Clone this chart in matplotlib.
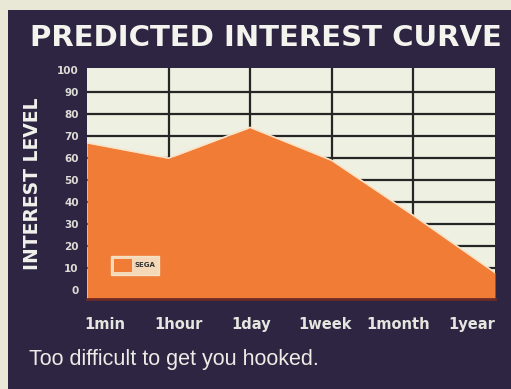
import numpy as np
import matplotlib
matplotlib.use("Agg")
import matplotlib.pyplot as plt
from matplotlib.patches import Rectangle

# Data
periods = ["1min", "1hour", "1day", "1week", "1month", "1year"]
interest = [67, 60, 74, 59, 34, 8]
y_ticks = list(range(0, 101, 10))
series_name = "SEGA"

W, H = 511, 389
fig = plt.figure(figsize=(W / 100, H / 100), dpi=100)
fig.patch.set_facecolor("#e9e7d6")

PANEL = "#2d2542"
ORANGE = "#f07c36"
PLOT_BG = "#eef0e2"

# dark panel behind everything
fig.add_artist(Rectangle((8 / W, 0), (W - 8) / W, (H - 10) / H,
                         transform=fig.transFigure, facecolor=PANEL,
                         edgecolor="none", zorder=0))

ax = fig.add_axes([87 / W, 1 - 299 / H, (495 - 87) / W, (299 - 68) / H])
ax.set_facecolor(PLOT_BG)
x = np.arange(len(periods))
ax.set_xlim(x[0], x[-1])
ax.set_ylim(-4, 101)

# grid
for v in y_ticks[1:-1]:
    ax.axhline(v, color="#262626", lw=1.6, zorder=1)
for xv in x[1:-1]:
    ax.axvline(xv, color="#262626", lw=1.6, zorder=1)

floor = ax.get_ylim()[0]
ax.fill_between(x, interest, floor, color=ORANGE, lw=0, zorder=2)
ax.plot(x, interest, color="#fbe3c8", lw=1.2, zorder=3)

for s in ["top", "left", "right"]:
    ax.spines[s].set_visible(False)
ax.spines["bottom"].set_color("#6e2a26")
ax.spines["bottom"].set_linewidth(2)

ax.set_yticks(y_ticks)
ax.set_yticklabels([str(v) for v in y_ticks], fontsize=7.5, fontweight="bold",
                   color="#dcdcd6", family="DejaVu Sans")
ax.tick_params(axis="y", length=0, pad=6)

label_pos = np.linspace(0.22, 4.71, len(periods))
ax.set_xticks(label_pos)
ax.set_xticklabels(periods, fontsize=10.5, fontweight="bold", color="#e6e6e0",
                   family="DejaVu Sans")
ax.tick_params(axis="x", length=0, pad=13)

ax.set_ylabel("INTEREST LEVEL", fontsize=13.5, fontweight="bold",
              color="#f2f2ec", family="DejaVu Sans", labelpad=11)

# legend box
leg = ax.legend([Rectangle((0, 0), 1, 1, facecolor=ORANGE, edgecolor="none")],
                [series_name], loc="lower left", bbox_to_anchor=(0.05, 0.09),
                frameon=True, fancybox=False, fontsize=5, handlelength=2.6,
                handleheight=2.4, handletextpad=0.4, borderpad=0.45)
leg.get_frame().set_facecolor("#f6f0d8")
leg.get_frame().set_edgecolor("#f6f0d8")
for t in leg.get_texts():
    t.set_fontweight("bold")
    t.set_color("#333333")

fig.text(30 / W, 1 - 38 / H, "PREDICTED INTEREST CURVE", fontsize=21,
         fontweight="bold", color="#f4f4ee", family="DejaVu Sans",
         ha="left", va="center")
fig.text(29 / W, 1 - 360 / H, "Too difficult to get you hooked.", fontsize=15.5,
         color="#ecece6", family="Liberation Sans", ha="left", va="center")

fig.savefig("out.png", dpi=100, facecolor=fig.get_facecolor())
